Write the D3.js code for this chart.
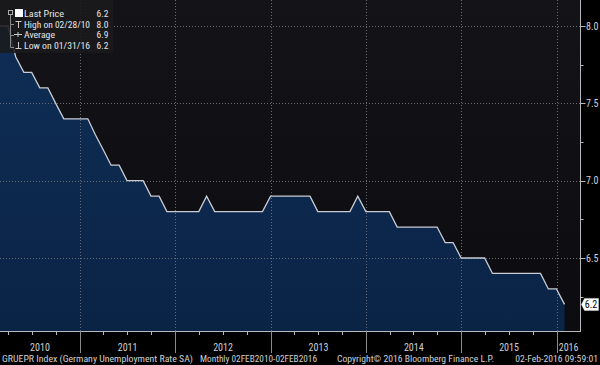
<!DOCTYPE html>
<html>
<head>
<meta charset="utf-8">
<script src="https://cdn.jsdelivr.net/npm/d3@7"></script>
<style>
  body { margin: 0; background: #000; }
  svg { display: block; }
  text { font-family: "Roboto Condensed", "Liberation Sans", Arial, sans-serif; }
</style>
</head>
<body>
<svg id="chart" width="600" height="365"></svg>
<script>
// monthly values, Feb 2010 .. Jan 2016 (end of month)
let startYear = 2010, startMonth = 2;
let values = [
  8.0, 8.0, 7.8, 7.7, 7.7, 7.6, 7.6, 7.5, 7.4, 7.4, 7.4,
  7.4, 7.3, 7.2, 7.1, 7.1, 7.0, 7.0, 7.0, 6.9, 6.9, 6.8,
  6.8, 6.8, 6.8, 6.8, 6.9, 6.8, 6.8, 6.8, 6.8, 6.8, 6.8, 6.8,
  6.9, 6.9, 6.9, 6.9, 6.9, 6.9, 6.8, 6.8, 6.8, 6.8, 6.8, 6.9,
  6.8, 6.8, 6.8, 6.8, 6.7, 6.7, 6.7, 6.7, 6.7, 6.7, 6.6, 6.6,
  6.5, 6.5, 6.5, 6.5, 6.4, 6.4, 6.4, 6.4, 6.4, 6.4, 6.4, 6.3,
  6.3, 6.2
];
let yearLabels = ["2010", "2011", "2012", "2013", "2014", "2015", "2016"];
let yTicks = [6.5, 7.0, 7.5, 8.0];
let legendRows = [
  {label: "Last Price", value: "6.2"},
  {label: "High on 02/28/10", value: "8.0"},
  {label: "Average", value: "6.9"},
  {label: "Low on 01/31/16", value: "6.2"}
];
let footer = {
  left: "GRUEPR Index (Germany Unemployment Rate SA)",
  freq: "Monthly 02FEB2010-02FEB2016",
  mid: "Copyright\u00A9 2016 Bloomberg Finance L.P.",
  right: "02-Feb-2016 09:59:01"
};

let data = values.map((v, i) => ({date: new Date(Date.UTC(startYear, startMonth + i, 0)), value: v}));

let plot = {left: 0, right: 580.5, top: 0, bottom: 331};

let x = d3.scaleUtc()
  .domain([new Date(Date.UTC(2010, 0, 1)), new Date(Date.UTC(2016, 0, 1))])
  .range([-15.3, 556.7]);

let y = d3.scaleLinear().domain([6.5, 8.0]).range([258, 26]);

const svg = d3.select("#chart");

const defs = svg.append("defs");
const bg = defs.append("linearGradient").attr("id", "bg").attr("x1", 0).attr("x2", 0).attr("y1", 0).attr("y2", 1);
bg.append("stop").attr("offset", "0%").attr("stop-color", "#141318");
bg.append("stop").attr("offset", "100%").attr("stop-color", "#0c0c10");
const ag = defs.append("linearGradient").attr("id", "ag").attr("x1", 0).attr("x2", 0).attr("y1", 0).attr("y2", 1);
ag.append("stop").attr("offset", "0%").attr("stop-color", "#0f2d55");
ag.append("stop").attr("offset", "100%").attr("stop-color", "#0a2446");

svg.append("rect").attr("width", 600).attr("height", 365).attr("fill", "#000");
svg.append("rect")
  .attr("x", plot.left).attr("y", plot.top)
  .attr("width", plot.right - plot.left).attr("height", plot.bottom - plot.top)
  .attr("fill", "url(#bg)");

// area
svg.append("path")
  .datum(data)
  .attr("fill", "url(#ag)")
  .attr("d", d3.area().x(d => x(d.date)).y0(plot.bottom).y1(d => y(d.value)));

// grid
const years = d3.range(2011, 2017).map(yr => new Date(Date.UTC(yr, 0, 1)));
svg.append("g").selectAll("line").data(yTicks).join("line")
  .attr("x1", plot.left).attr("x2", plot.right)
  .attr("y1", d => Math.round(y(d)) + 0.5).attr("y2", d => Math.round(y(d)) + 0.5)
  .attr("stroke", "#6a6a72").attr("stroke-width", 1).attr("stroke-dasharray", "1,2");
svg.append("g").selectAll("line").data(years).join("line")
  .attr("x1", d => Math.round(x(d)) + 0.5).attr("x2", d => Math.round(x(d)) + 0.5)
  .attr("y1", plot.top).attr("y2", plot.bottom)
  .attr("stroke", "#6a6a72").attr("stroke-width", 1).attr("stroke-dasharray", "1,2");

// line
svg.append("path")
  .datum(data)
  .attr("fill", "none")
  .attr("stroke", "#c9ccd4")
  .attr("stroke-width", 1.3)
  .attr("d", d3.line().x(d => x(d.date)).y(d => y(d.value)));

// bottom axis
const axisColor = "#b8b8b8";
svg.append("line")
  .attr("x1", 0).attr("x2", plot.right)
  .attr("y1", plot.bottom + 0.5).attr("y2", plot.bottom + 0.5)
  .attr("stroke", axisColor);
const quarters = d3.utcMonth.every(3).range(new Date(Date.UTC(2010, 0, 1)), new Date(Date.UTC(2016, 3, 1)))
  .filter(d => d.getUTCMonth() !== 0);
svg.append("g").selectAll("line").data(quarters).join("line")
  .attr("x1", d => Math.round(x(d)) + 0.5).attr("x2", d => Math.round(x(d)) + 0.5)
  .attr("y1", plot.bottom).attr("y2", plot.bottom + 4)
  .attr("stroke", axisColor);
svg.append("g").selectAll("line").data(years).join("line")
  .attr("x1", d => Math.round(x(d)) + 0.5).attr("x2", d => Math.round(x(d)) + 0.5)
  .attr("y1", plot.bottom).attr("y2", 353)
  .attr("stroke", "#8a8a8a");
svg.append("g").selectAll("text").data(yearLabels).join("text")
  .attr("x", d => {
    const a = x(new Date(Date.UTC(+d, 0, 1)));
    const b = Math.min(x(new Date(Date.UTC(+d + 1, 0, 1))), plot.right);
    return (Math.max(a, 0) + b) / 2;
  })
  .attr("y", 351)
  .attr("text-anchor", "middle")
  .attr("fill", "#d0d0d0")
  .attr("font-size", 10)
  .text(d => d);

// right axis
svg.append("line")
  .attr("x1", plot.right).attr("x2", plot.right)
  .attr("y1", 0).attr("y2", plot.bottom + 1)
  .attr("stroke", axisColor);
const minorY = d3.range(6.25, 8.01, 0.25).filter(v => Math.abs(v * 2 - Math.round(v * 2)) > 0.01);
svg.append("g").selectAll("line").data(minorY).join("line")
  .attr("x1", plot.right).attr("x2", plot.right + 3)
  .attr("y1", d => Math.round(y(d)) + 0.5).attr("y2", d => Math.round(y(d)) + 0.5)
  .attr("stroke", axisColor);
svg.append("g").selectAll("line").data(yTicks).join("line")
  .attr("x1", plot.right).attr("x2", plot.right + 5)
  .attr("y1", d => Math.round(y(d)) + 0.5).attr("y2", d => Math.round(y(d)) + 0.5)
  .attr("stroke", axisColor);
svg.append("g").selectAll("text").data(yTicks).join("text")
  .attr("x", plot.right + 5.5)
  .attr("y", d => y(d) + 3.5)
  .attr("fill", "#d0d0d0")
  .attr("font-size", 10)
  .text(d => d.toFixed(1));

// last price tag
const last = data[data.length - 1];
const ly = y(last.value);
svg.append("path")
  .attr("d", `M${plot.right + 1},${ly} L${plot.right + 4},${ly - 6} H598.5 V${ly + 6} H${plot.right + 4} Z`)
  .attr("fill", "#fff").attr("stroke", "#ddd").attr("stroke-width", 0.5);
svg.append("text")
  .attr("x", 591).attr("y", ly + 3.5)
  .attr("text-anchor", "middle")
  .attr("fill", "#000").attr("font-size", 10)
  .text(last.value.toFixed(1));

// legend
const lg = svg.append("g");
lg.append("rect").attr("x", 0).attr("y", 0).attr("width", 113).attr("height", 53)
  .attr("fill", "#1a1a1c").attr("fill-opacity", 0.88);
lg.append("path")
  .attr("d", "M10.5,15 V47.5 M10.5,24.5 H14 M10.5,35.5 H14 M10.5,47.5 H14")
  .attr("stroke", "#8a8a8a").attr("fill", "none");
lg.append("rect").attr("x", 8.5).attr("y", 10.5).attr("width", 4).attr("height", 4)
  .attr("fill", "none").attr("stroke", "#aaa");
lg.append("rect").attr("x", 15).attr("y", 9).attr("width", 8).attr("height", 8).attr("fill", "#fff");
lg.append("path").attr("d", "M15.5,21.5 H21.5 M18.5,21.5 V28").attr("stroke", "#ccc").attr("fill", "none");
lg.append("path").attr("d", "M14,34.5 H22 M18,32 V37").attr("stroke", "#ccc").attr("fill", "none");
lg.append("path").attr("d", "M18.5,42 V48.5 M15.5,48.5 H21.5").attr("stroke", "#ccc").attr("fill", "none");
const labelWidths = [40, 66, 31, 66];
lg.selectAll("text.lbl").data(legendRows).join("text")
  .attr("class", "lbl")
  .attr("x", 24).attr("y", (d, i) => 17 + i * 10.6)
  .attr("fill", "#e4e4e4").attr("font-size", 9.5)
  .attr("textLength", (d, i) => labelWidths[i]).attr("lengthAdjust", "spacingAndGlyphs")
  .text(d => d.label);
lg.selectAll("text.val").data(legendRows).join("text")
  .attr("class", "val")
  .attr("x", 108.5).attr("y", (d, i) => 17 + i * 10.6)
  .attr("text-anchor", "end")
  .attr("fill", "#e4e4e4").attr("font-size", 9.5)
  .text(d => d.value);

// footer
const ft = svg.append("g").attr("fill", "#d0d0d0").attr("font-size", 9.7);
ft.append("text").attr("x", 2).attr("y", 362).attr("textLength", 191).attr("lengthAdjust", "spacingAndGlyphs").text(footer.left);
ft.append("text").attr("x", 200).attr("y", 362).attr("textLength", 117).attr("lengthAdjust", "spacingAndGlyphs").text(footer.freq);
ft.append("text").attr("x", 337).attr("y", 362).attr("textLength", 157).attr("lengthAdjust", "spacingAndGlyphs").text(footer.mid);
ft.append("text").attr("x", 598).attr("y", 362).attr("text-anchor", "end").text(footer.right);
</script>
</body>
</html>
